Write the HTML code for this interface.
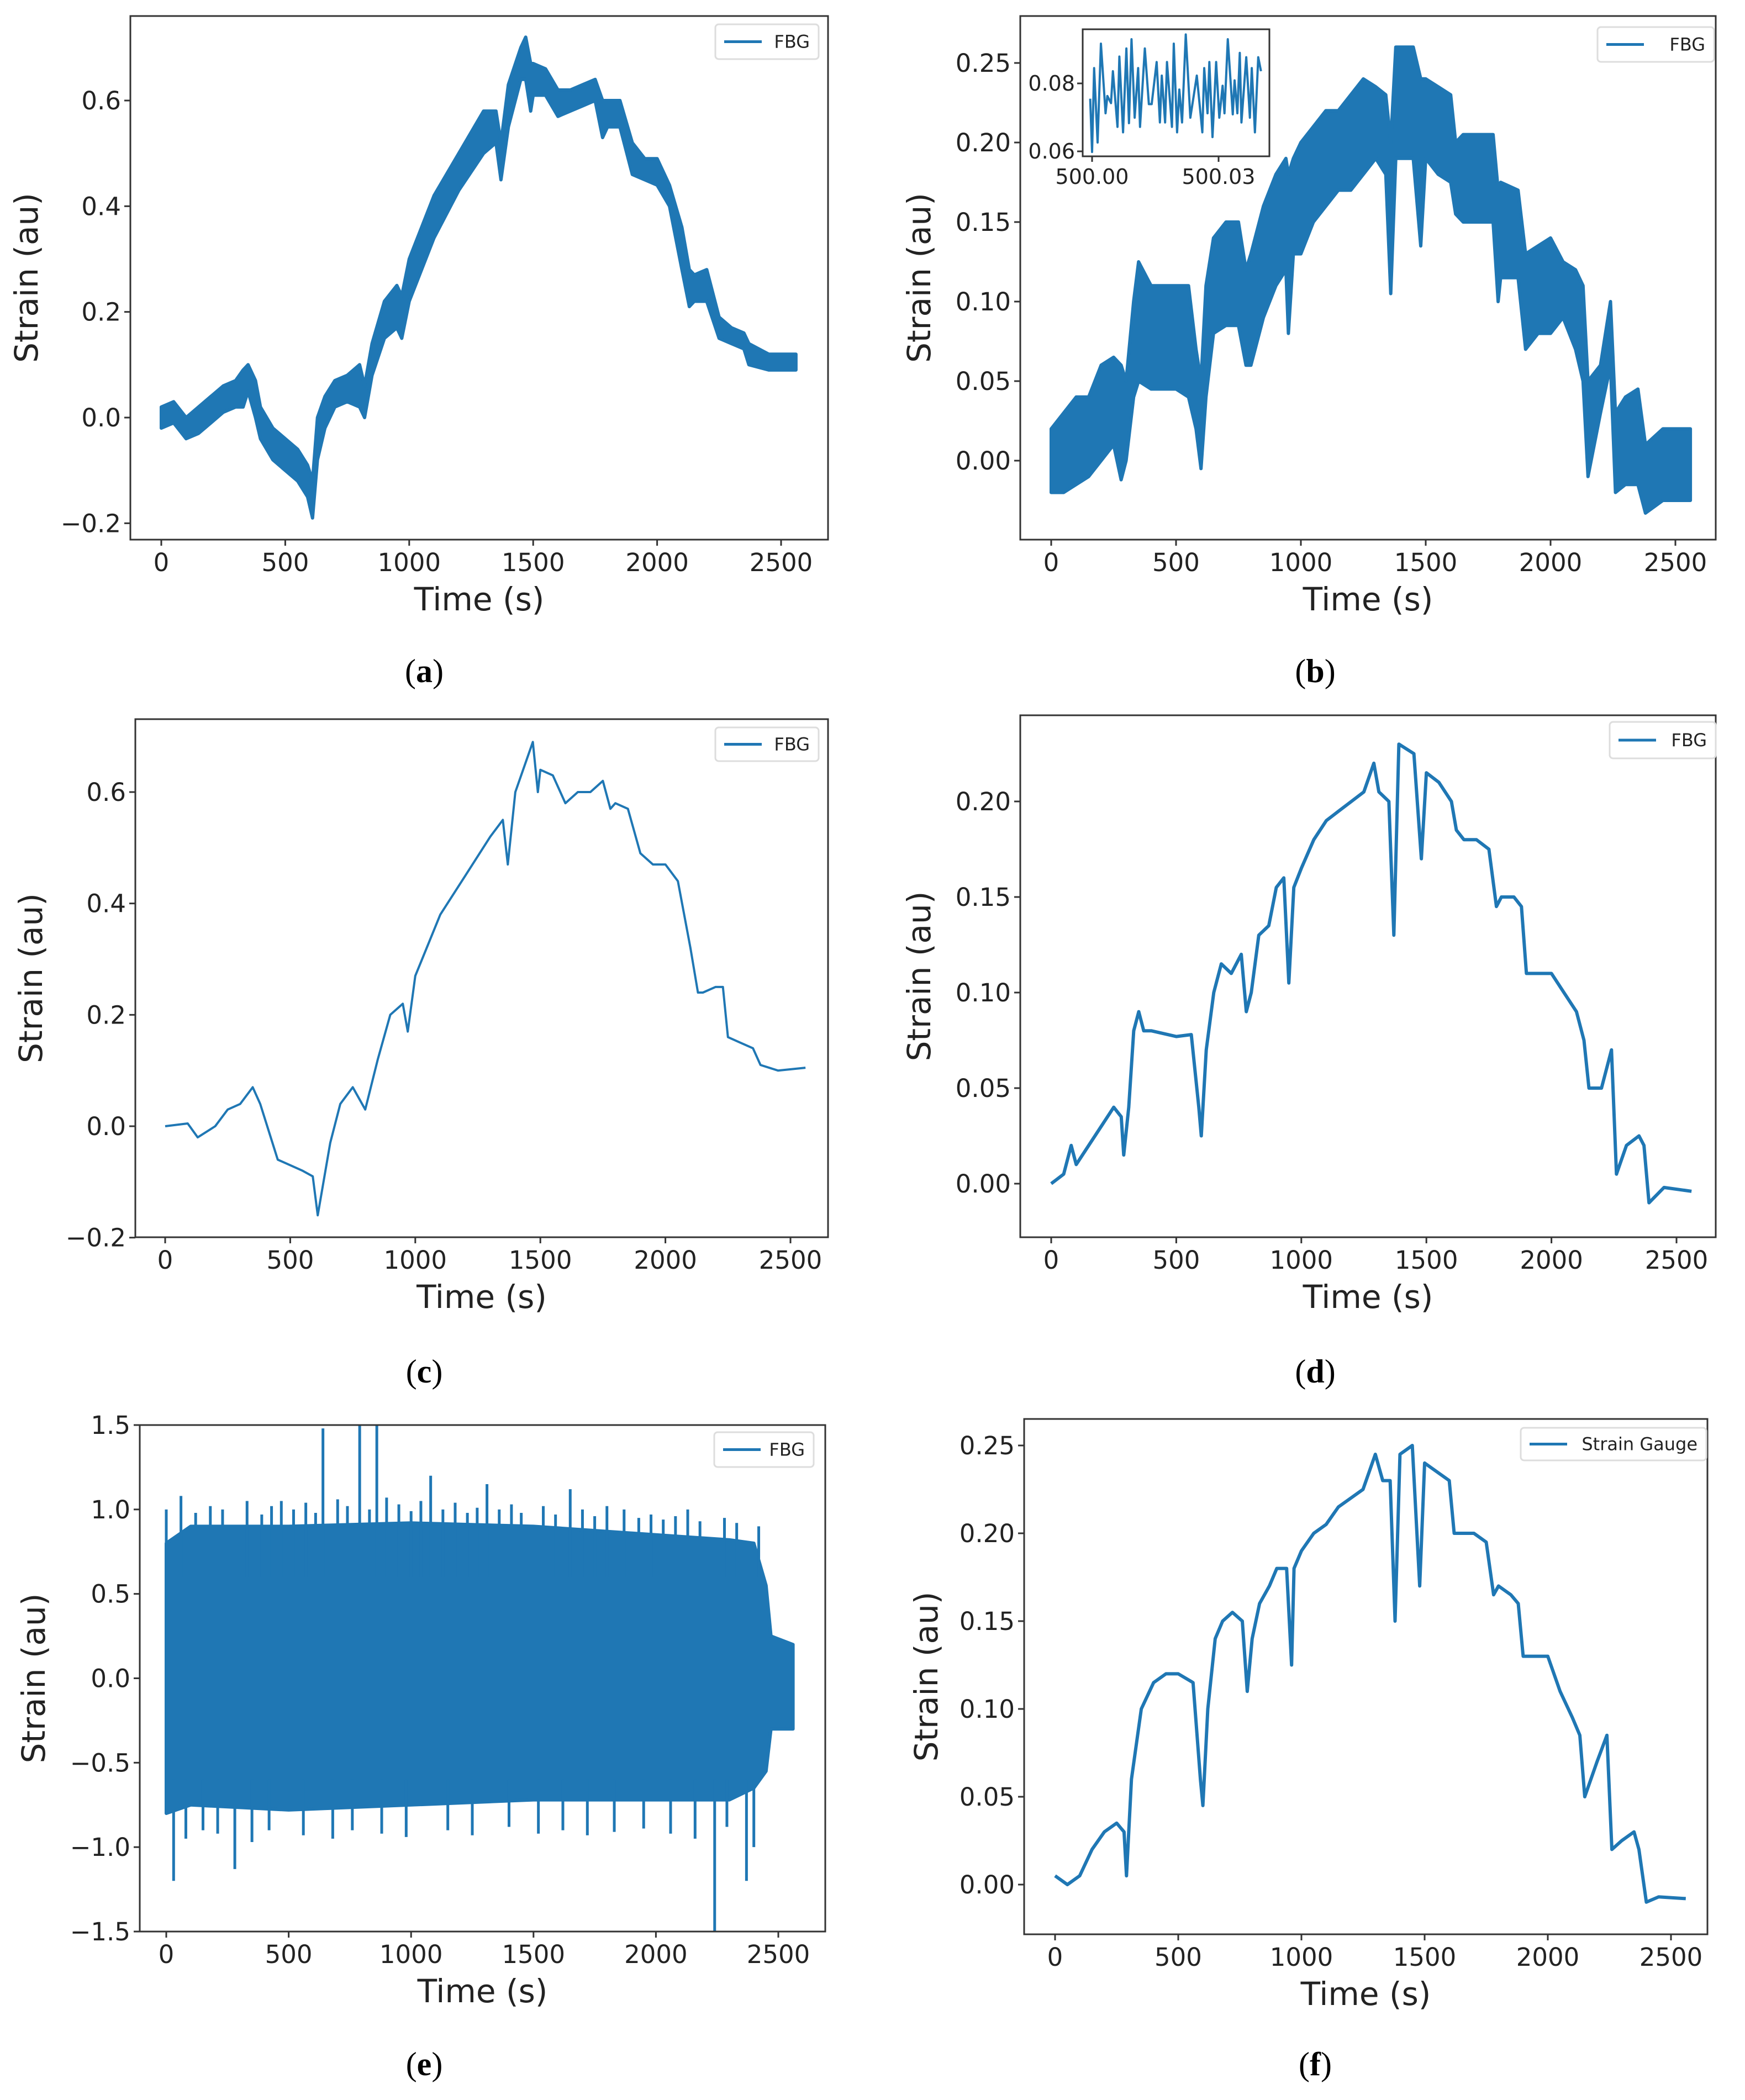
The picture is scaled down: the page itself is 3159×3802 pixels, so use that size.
<!DOCTYPE html>
<html><head><meta charset="utf-8">
<style>
html,body{margin:0;padding:0;background:#fff;}
svg{display:block;}
text{font-family:"DejaVu Sans","Liberation Sans",sans-serif;fill:#222;}
.cap{font-family:"Liberation Serif",serif;fill:#000;}
</style></head>
<body>
<svg id="fig" width="3159" height="3802" viewBox="0 0 3159 3802" xmlns="http://www.w3.org/2000/svg"></svg>
<script>
// ---------- data ----------
const tA=[0,50,100,150,200,250,300,330,350,380,400,450,500,550,590,610,630,660,700,750,800,820,850,900,950,970,1000,1100,1200,1300,1350,1370,1400,1450,1470,1490,1500,1550,1600,1650,1700,1750,1780,1800,1850,1900,1950,2000,2050,2100,2130,2150,2200,2250,2300,2350,2370,2450,2560];
const loA=[-0.02,-0.01,-0.04,-0.03,-0.01,0.01,0.02,0.02,0.05,0.0,-0.04,-0.08,-0.1,-0.12,-0.15,-0.19,-0.08,-0.02,0.02,0.03,0.02,0.0,0.08,0.15,0.17,0.15,0.22,0.34,0.43,0.5,0.52,0.45,0.55,0.64,0.64,0.58,0.61,0.61,0.57,0.58,0.59,0.6,0.53,0.55,0.55,0.46,0.45,0.44,0.4,0.28,0.21,0.22,0.22,0.15,0.14,0.13,0.1,0.09,0.09];
const hiA=[0.02,0.03,0.0,0.02,0.04,0.06,0.07,0.09,0.1,0.07,0.02,-0.02,-0.04,-0.06,-0.09,-0.12,0.0,0.04,0.07,0.08,0.1,0.06,0.14,0.22,0.25,0.23,0.3,0.42,0.5,0.58,0.58,0.52,0.63,0.7,0.72,0.67,0.67,0.66,0.62,0.62,0.63,0.64,0.6,0.6,0.6,0.52,0.49,0.49,0.44,0.36,0.28,0.27,0.28,0.19,0.17,0.16,0.14,0.12,0.12];

const tB=[0,50,100,150,200,250,280,300,330,350,400,450,500,550,580,600,620,650,700,750,780,800,850,900,940,950,970,1000,1050,1100,1150,1200,1250,1300,1340,1360,1380,1450,1480,1500,1550,1600,1620,1650,1700,1770,1790,1800,1870,1900,1950,2000,2050,2100,2130,2150,2200,2240,2260,2300,2350,2380,2450,2560];
const loB=[-0.02,-0.02,-0.015,-0.01,0.0,0.01,-0.012,0.0,0.04,0.05,0.045,0.045,0.045,0.04,0.02,-0.005,0.04,0.08,0.085,0.085,0.06,0.06,0.09,0.11,0.12,0.08,0.13,0.13,0.15,0.16,0.17,0.17,0.18,0.19,0.18,0.105,0.19,0.19,0.135,0.19,0.18,0.175,0.155,0.15,0.15,0.15,0.1,0.115,0.115,0.07,0.08,0.08,0.09,0.07,0.05,-0.01,0.03,0.06,-0.02,-0.015,-0.015,-0.033,-0.025,-0.025];
const hiB=[0.02,0.03,0.04,0.04,0.06,0.065,0.06,0.05,0.1,0.125,0.11,0.11,0.11,0.11,0.07,0.05,0.11,0.14,0.15,0.15,0.12,0.13,0.16,0.18,0.19,0.18,0.19,0.2,0.21,0.22,0.22,0.23,0.24,0.235,0.23,0.2,0.26,0.26,0.24,0.24,0.235,0.23,0.2,0.205,0.205,0.205,0.17,0.175,0.17,0.13,0.135,0.14,0.125,0.12,0.11,0.05,0.06,0.1,0.03,0.04,0.045,0.01,0.02,0.02];

const tInset=[-0.44,0,0.48,1.31,2.10,3.19,3.63,4.50,4.94,6.03,6.47,7.35,8.13,8.75,9.36,10.10,10.93,11.37,12.51,13.47,14.13,15.31,16.09,16.53,17.32,17.76,18.94,19.37,20.16,20.69,21.34,22.22,23.31,24.84,26.15,26.59,27.38,27.81,28.56,29.43,30.17,30.96,31.40,32.19,33.37,33.80,34.46,35.03,35.42,36.56,37.43,37.87,38.62,39.40,40.06];
const vInset=[0.0755,0.0598,0.0845,0.0626,0.0917,0.0712,0.0763,0.0742,0.0836,0.0672,0.0879,0.0656,0.0903,0.0683,0.093,0.0699,0.0845,0.0672,0.0903,0.0739,0.0739,0.0863,0.0685,0.0823,0.0685,0.0863,0.0672,0.0917,0.0656,0.0782,0.0685,0.0944,0.0699,0.0823,0.0656,0.0845,0.0712,0.0863,0.0642,0.0863,0.0699,0.0793,0.0712,0.093,0.0709,0.0809,0.0712,0.089,0.0685,0.0877,0.0699,0.0845,0.0656,0.0877,0.0836];

const tC=[0,90,130,200,250,300,350,380,450,550,590,610,660,700,750,800,850,900,950,970,1000,1100,1200,1300,1350,1370,1400,1470,1490,1500,1550,1600,1650,1700,1750,1780,1800,1850,1900,1950,2000,2050,2100,2130,2150,2200,2230,2250,2300,2350,2380,2450,2560];
const vC=[0.0,0.005,-0.02,0.0,0.03,0.04,0.07,0.04,-0.06,-0.08,-0.09,-0.16,-0.03,0.04,0.07,0.03,0.12,0.2,0.22,0.17,0.27,0.38,0.45,0.52,0.55,0.47,0.6,0.69,0.6,0.64,0.63,0.58,0.6,0.6,0.62,0.57,0.58,0.57,0.49,0.47,0.47,0.44,0.32,0.24,0.24,0.25,0.25,0.16,0.15,0.14,0.11,0.1,0.105];

const tD=[0,50,80,100,150,200,250,280,290,310,330,350,370,400,500,560,590,600,620,650,680,720,760,780,800,830,870,900,930,950,970,1000,1050,1100,1150,1200,1250,1290,1310,1350,1370,1390,1450,1480,1500,1550,1600,1620,1650,1700,1750,1780,1800,1850,1880,1900,1950,2000,2050,2100,2130,2150,2200,2240,2260,2300,2350,2370,2390,2450,2560];
const vD=[0.0,0.005,0.02,0.01,0.02,0.03,0.04,0.035,0.015,0.04,0.08,0.09,0.08,0.08,0.077,0.078,0.04,0.025,0.07,0.1,0.115,0.11,0.12,0.09,0.1,0.13,0.135,0.155,0.16,0.105,0.155,0.165,0.18,0.19,0.195,0.2,0.205,0.22,0.205,0.2,0.13,0.23,0.225,0.17,0.215,0.21,0.2,0.185,0.18,0.18,0.175,0.145,0.15,0.15,0.145,0.11,0.11,0.11,0.1,0.09,0.075,0.05,0.05,0.07,0.005,0.02,0.025,0.02,-0.01,-0.002,-0.004];

const tEband=[0,100,500,1000,1500,2000,2300,2400,2450,2470,2560];
const loE=[-0.8,-0.75,-0.78,-0.75,-0.72,-0.72,-0.72,-0.65,-0.55,-0.3,-0.3];
const hiE=[0.8,0.9,0.9,0.92,0.9,0.85,0.82,0.8,0.55,0.25,0.2];
const tEspike=[0,30,280,470,640,790,860,1080,1310,1650,1870,2130,2240,2370,60,120,180,230,330,390,430,520,570,610,700,740,830,900,950,1000,1040,1130,1180,1230,1270,1360,1410,1450,1540,1590,1700,1750,1800,1930,1980,2030,2080,2180,2280,2330,2420,80,150,210,350,420,560,680,760,880,980,1150,1250,1400,1520,1620,1720,1830,1950,2060,2160,2290,2400];
const vEspike=[1.0,-1.2,-1.13,1.05,1.48,1.5,1.5,1.2,1.15,1.12,1.0,1.0,-1.5,-1.2,1.08,0.98,1.02,1.0,1.05,0.97,1.02,1.0,1.04,0.98,1.06,1.02,1.0,1.07,1.03,0.99,1.05,1.0,1.04,0.98,1.01,1.0,1.03,0.98,1.02,0.97,1.0,0.96,1.02,0.95,0.97,0.94,0.96,0.93,0.95,0.92,0.9,-0.95,-0.9,-0.92,-0.97,-0.9,-0.93,-0.95,-0.9,-0.92,-0.94,-0.9,-0.93,-0.88,-0.92,-0.9,-0.93,-0.91,-0.89,-0.92,-0.95,-0.88,-1.0];

const tF=[0,50,100,150,200,250,280,290,310,350,400,450,500,560,590,600,620,650,680,720,760,780,800,830,870,900,940,960,970,1000,1050,1100,1150,1200,1250,1300,1330,1360,1380,1400,1450,1480,1500,1550,1600,1620,1650,1700,1750,1780,1800,1850,1880,1900,1950,2000,2050,2100,2130,2150,2200,2240,2260,2300,2350,2370,2400,2450,2560];
const vF=[0.005,0.0,0.005,0.02,0.03,0.035,0.03,0.005,0.06,0.1,0.115,0.12,0.12,0.115,0.06,0.045,0.1,0.14,0.15,0.155,0.15,0.11,0.14,0.16,0.17,0.18,0.18,0.125,0.18,0.19,0.2,0.205,0.215,0.22,0.225,0.245,0.23,0.23,0.15,0.245,0.25,0.17,0.24,0.235,0.23,0.2,0.2,0.2,0.195,0.165,0.17,0.165,0.16,0.13,0.13,0.13,0.11,0.095,0.085,0.05,0.07,0.085,0.02,0.025,0.03,0.02,-0.01,-0.007,-0.008];

const xTicks=[0,500,1000,1500,2000,2500];
const yTicksA=[-0.2,0.0,0.2,0.4,0.6];
const yTicksB=[0.00,0.05,0.10,0.15,0.20,0.25];
const yTicksC=[-0.2,0.0,0.2,0.4,0.6];
const yTicksD=[0.00,0.05,0.10,0.15,0.20];
const yTicksE=[-1.5,-1.0,-0.5,0.0,0.5,1.0,1.5];
const yTicksF=[0.00,0.05,0.10,0.15,0.20,0.25];

// ---------- drawing ----------
const NS="http://www.w3.org/2000/svg";
const svg=document.getElementById('fig');
const BLUE="#1f77b4";
function mk(tag,attrs,parent){const e=document.createElementNS(NS,tag);for(const k in attrs)e.setAttribute(k,attrs[k]);(parent||svg).appendChild(e);return e;}

function panel(c){
  const g=mk('g',{});
  
  
  const sx=v=>c.x0px+(v-c.x0v)*(c.x1px-c.x0px)/(c.x1v-c.x0v);
  const sy=v=>c.y0px+(v-c.y0v)*(c.y1px-c.y0px)/(c.y1v-c.y0v);
  const clip='clip-'+c.id;
  const cp=mk('clipPath',{id:clip},g);
  mk('rect',{x:c.L,y:c.T,width:c.R-c.L,height:c.B-c.T},cp);
  const dg=mk('g',{'clip-path':'url(#'+clip+')'},g);
  
  
  if(c.band){
    let pts=[];
    for(let i=0;i<c.band.t.length;i++)pts.push(sx(c.band.t[i]).toFixed(1)+','+sy(c.band.hi[i]).toFixed(1));
    for(let i=c.band.t.length-1;i>=0;i--)pts.push(sx(c.band.t[i]).toFixed(1)+','+sy(c.band.lo[i]).toFixed(1));
    const p=mk('polygon',{points:pts.join(' '),fill:BLUE,stroke:BLUE,'stroke-width':6,'stroke-linejoin':'round'},dg);
    
    
  }
  if(c.spikes){
    for(let i=0;i<c.spikes.t.length;i++){
      const base=c.spikes.v[i]>0?0.6:-0.6;
      const l=mk('line',{x1:sx(c.spikes.t[i]),x2:sx(c.spikes.t[i]),y1:sy(base),y2:sy(c.spikes.v[i]),stroke:BLUE,'stroke-width':5},dg);
      
      
    }
  }
  if(c.line){
    const pts=c.line.t.map((t,i)=>sx(t).toFixed(1)+','+sy(c.line.v[i]).toFixed(1)).join(' ');
    const pl=mk('polyline',{points:pts,fill:'none',stroke:BLUE,'stroke-width':c.lw||5,'stroke-linejoin':'round'},dg);
    
    
  }
  const fr=mk('rect',{x:c.L,y:c.T,width:c.R-c.L,height:c.B-c.T,fill:'none',stroke:'#333',"stroke-width":3},g);
  
  
  xTicks.forEach(v=>{
    const x=sx(v);
    mk('line',{x1:x,x2:x,y1:c.B,y2:c.B+11,stroke:'#333','stroke-width':3},g);
    const t=mk('text',{x:x,y:c.B+57,'text-anchor':'middle','font-size':45},g);
    t.textContent=String(v);
    
    
  });
  c.yTicks.forEach(v=>{
    const y=sy(v);
    mk('line',{x1:c.L-11,x2:c.L,y1:y,y2:y,stroke:'#333','stroke-width':3},g);
    const t=mk('text',{x:c.L-17,y:y+16,'text-anchor':'end','font-size':45},g);
    t.textContent=(v<0?'\u2212':'')+Math.abs(v).toFixed(c.dec);
    
    
  });
  const xl=mk('text',{x:(c.L+c.R)/2,y:c.B+128,'text-anchor':'middle','font-size':58},g);
  xl.textContent='Time (s)';
  
  
  const yx=c.ylx, yy=(c.T+c.B)/2;
  const yl=mk('text',{x:yx,y:yy,'text-anchor':'middle','font-size':58,transform:'rotate(-90 '+yx+' '+yy+')'},g);
  yl.textContent='Strain (au)';
  
  
  const lg=mk('g',{},g);
  
  
  const [lx,ly,lw,lh]=c.leg;
  mk('rect',{x:lx,y:ly,width:lw,height:lh,rx:6,fill:'#fff',stroke:'#ddd','stroke-width':3},lg);
  mk('line',{x1:lx+16,x2:lx+84,y1:ly+lh/2,y2:ly+lh/2,stroke:BLUE,'stroke-width':5},lg);
  const lt=mk('text',{x:lx+lw-16,y:ly+lh/2+11,'text-anchor':'end','font-size':32},lg);
  lt.textContent=c.legText;
  
  
  const cap=mk('text',{class:'cap',x:c.capX,y:c.capY,'text-anchor':'middle','font-size':60},svg);
  cap.innerHTML='(<tspan font-weight="bold">'+c.capL+'</tspan>)';
  
  
  return {g,sx,sy};
}

panel({id:'a',name:'panel-a',L:236,T:29,R:1499,B:977,x0v:0,x0px:292,x1v:2500,x1px:1414,y0v:0,y0px:756,y1v:0.6,y1px:182,yTicks:yTicksA,dec:1,ylx:68,leg:[1295,44,187,63],legText:'FBG',capX:768,capY:1235,capL:'a',band:{t:tA,lo:loA,hi:hiA}});
panel({id:'b',name:'panel-b',L:1847,T:29,R:3106,B:977,x0v:0,x0px:1903,x1v:2500,x1px:3033,y0v:0,y0px:834,y1v:0.25,y1px:114,yTicks:yTicksB,dec:2,ylx:1684,leg:[2892,49,211,63],legText:'FBG',capX:2381,capY:1235,capL:'b',band:{t:tB,lo:loB,hi:hiB}});
panel({id:'c',name:'panel-c',L:245,T:1302,R:1499,B:2240,x0v:0,x0px:299,x1v:2500,x1px:1431,y0v:0,y0px:2039,y1v:0.6,y1px:1434,yTicks:yTicksC,dec:1,ylx:76,leg:[1295,1317,187,61],legText:'FBG',capX:768,capY:2503,capL:'c',line:{t:tC,v:vC},lw:4});
panel({id:'d',name:'panel-d',L:1847,T:1295,R:3106,B:2240,x0v:0,x0px:1903,x1v:2500,x1px:3035,y0v:0,y0px:2143,y1v:0.2,y1px:1451,yTicks:yTicksD,dec:2,ylx:1684,leg:[2914,1307,192,66],legText:'FBG',capX:2381,capY:2503,capL:'d',line:{t:tD,v:vD},lw:6});
panel({id:'e',name:'panel-e',L:253,T:2580,R:1494,B:3497,x0v:0,x0px:301,x1v:2500,x1px:1409,y0v:-1.5,y0px:3497,y1v:1.5,y1px:2580,yTicks:yTicksE,dec:1,ylx:81,leg:[1293,2593,180,63],legText:'FBG',capX:768,capY:3757,capL:'e',band:{t:tEband,lo:loE,hi:hiE},spikes:{t:tEspike,v:vEspike}});
panel({id:'f',name:'panel-f',L:1854,T:2569,R:3091,B:3502,x0v:0,x0px:1910,x1v:2500,x1px:3025,y0v:0,y0px:3412,y1v:0.25,y1px:2617,yTicks:yTicksF,dec:2,ylx:1697,leg:[2753,2585,336,59],legText:'Strain Gauge',capX:2381,capY:3757,capL:'f',line:{t:tF,v:vF},lw:6});

(function(){
  const L=1960,T=53,R=2298,B=283;
  const sx=v=>1977+(v-0)*(2206-1977)/30;
  const sy=v=>274+(v-0.06)*(151-274)/0.02;
  const g=mk('g',{});
  
  
  mk('rect',{x:L,y:T,width:R-L,height:B-T,fill:'#fff'},g);
  const pts=tInset.map((t,i)=>sx(t).toFixed(1)+','+sy(vInset[i]).toFixed(1)).join(' ');
  const pl=mk('polyline',{points:pts,fill:'none',stroke:BLUE,'stroke-width':4,'stroke-linejoin':'round'},g);
  
  
  mk('rect',{x:L,y:T,width:R-L,height:B-T,fill:'none',stroke:'#333','stroke-width':3},g);
  [[0,'500.00'],[30,'500.03']].forEach(([v,s])=>{
    mk('line',{x1:sx(v),x2:sx(v),y1:B,y2:B+10,stroke:'#333','stroke-width':3},g);
    const t=mk('text',{x:sx(v),y:B+50,'text-anchor':'middle','font-size':38},g);
    t.textContent=s;
    
    
  });
  [0.06,0.08].forEach(v=>{
    mk('line',{x1:L-10,x2:L,y1:sy(v),y2:sy(v),stroke:'#333','stroke-width':3},g);
    const t=mk('text',{x:L-14,y:sy(v)+13,'text-anchor':'end','font-size':38},g);
    t.textContent=v.toFixed(2);
    
    
  });
})();
</script>
</body></html>
